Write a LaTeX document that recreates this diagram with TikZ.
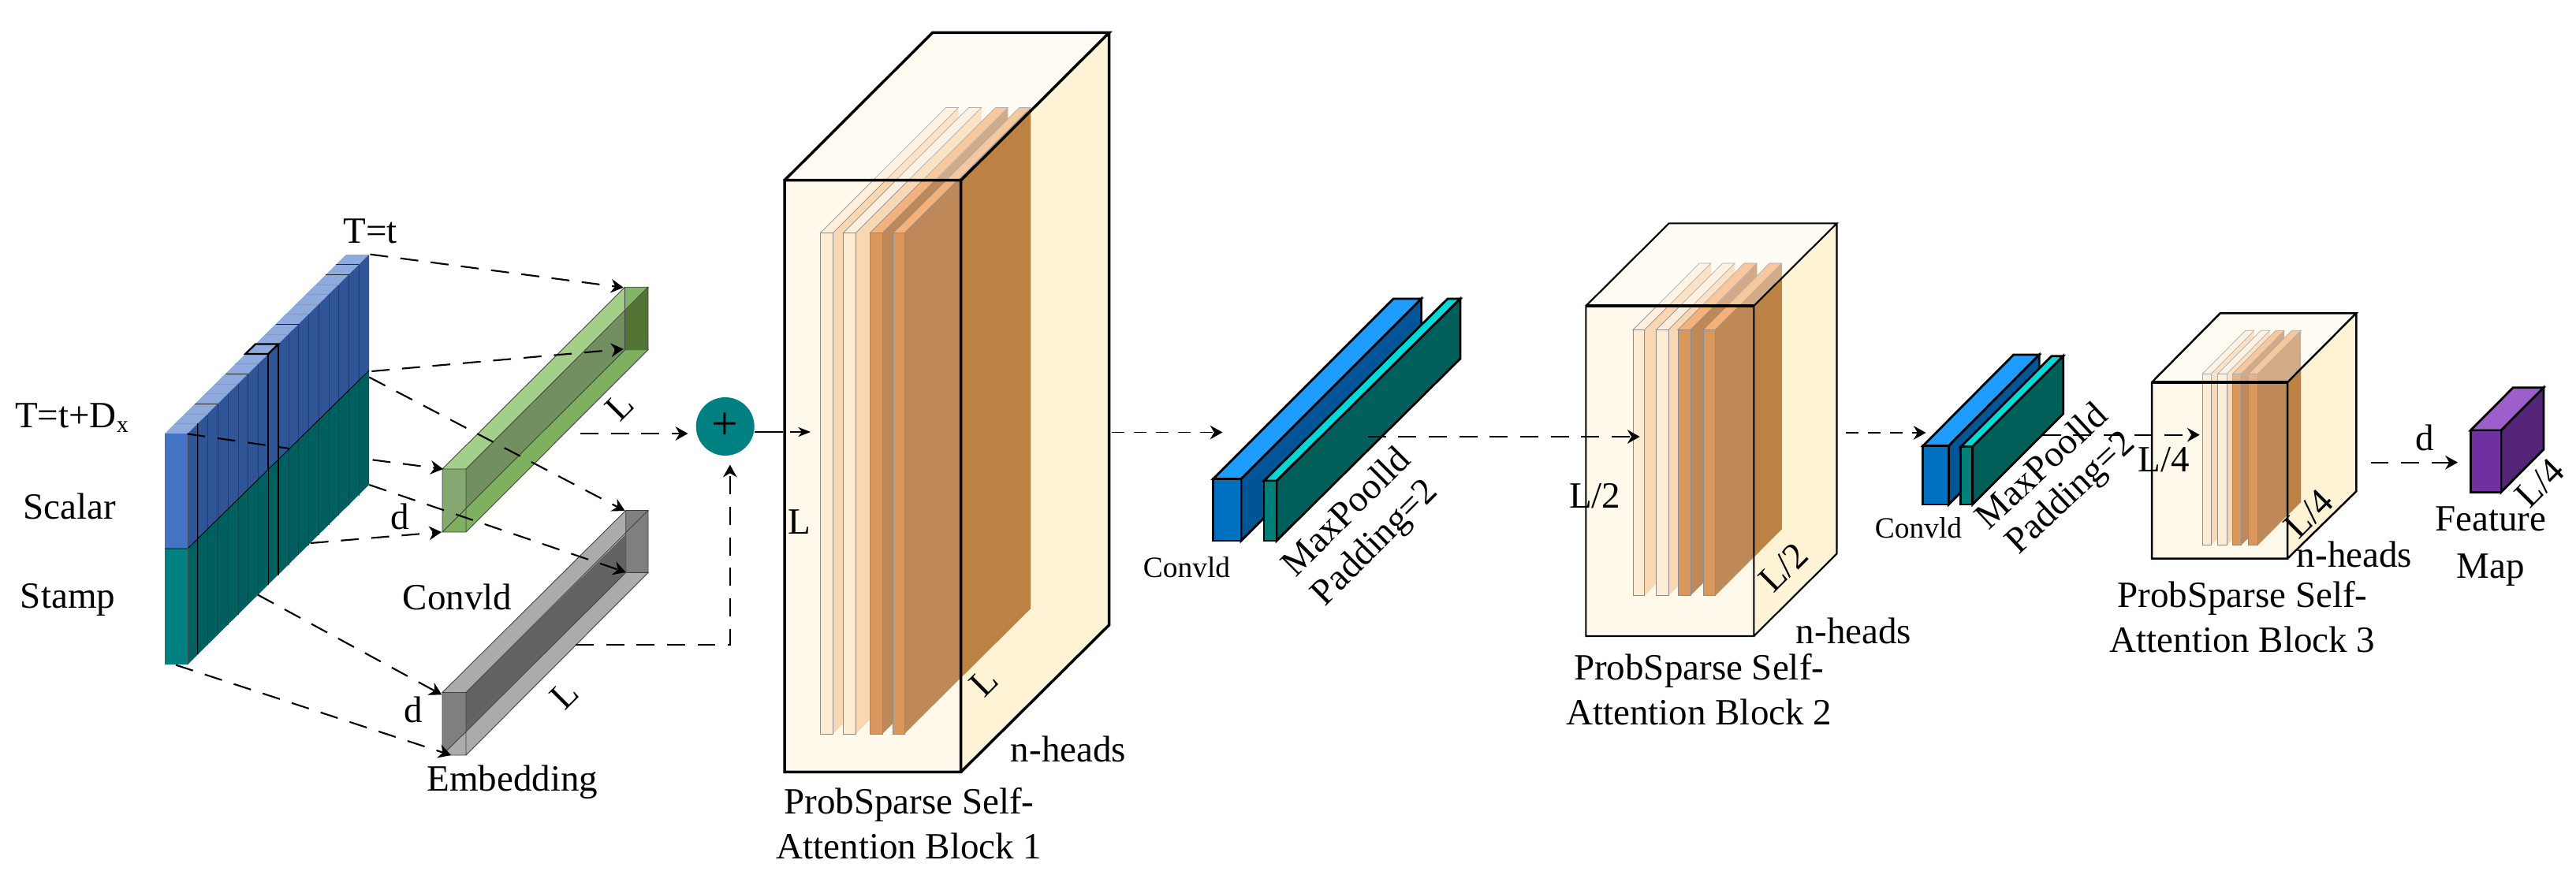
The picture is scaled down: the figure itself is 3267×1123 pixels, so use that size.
\documentclass[tikz,border=0pt]{standalone}
\usepackage{fontspec}
\setmainfont{Liberation Serif}
\usetikzlibrary{arrows.meta}
\newcommand\fa{\fontsize{26.75}{32.5}\selectfont}
\newcommand\fb{\fontsize{21.3}{26}\selectfont}
\newcommand\fc{\fontsize{17}{20}\selectfont}
% colours
\definecolor{cfront}{HTML}{0070C0}\definecolor{ctop}{HTML}{1F9DFF}\definecolor{cside}{HTML}{005596}
\definecolor{mfront}{HTML}{007F7A}\definecolor{mtop}{HTML}{00D9D9}\definecolor{mside}{HTML}{005F5B}
\definecolor{pfront}{HTML}{7030A0}\definecolor{ptop}{HTML}{9F5FCA}\definecolor{pside}{HTML}{542579}
\definecolor{lfront}{HTML}{FDEBD4}\definecolor{ltop}{HTML}{FDEEDD}\definecolor{lside}{HTML}{F9D7B2}
\definecolor{dfront}{HTML}{D9975D}\definecolor{dtop}{HTML}{F4B27A}\definecolor{dside}{HTML}{BE8859}
\definecolor{afront}{HTML}{FFF9EC}\definecolor{atop}{HTML}{FFFCF3}\definecolor{aside}{HTML}{FFF3D6}
\definecolor{aover}{HTML}{BC8243}
\definecolor{gback}{HTML}{527536}\definecolor{ginner}{HTML}{72905F}\definecolor{gtop}{HTML}{A3CF8B}
\definecolor{gbot}{HTML}{7FB060}\definecolor{gfront}{HTML}{85A970}\definecolor{gtri}{HTML}{82B366}
\definecolor{sback}{HTML}{7F7F7F}\definecolor{sinner}{HTML}{636363}\definecolor{stop}{HTML}{ABABAB}
\definecolor{sbot}{HTML}{ABABAB}\definecolor{sfront}{HTML}{7F7F7F}\definecolor{stri}{HTML}{7F7F7F}
\definecolor{bluefront}{HTML}{4472C4}\definecolor{bluetop}{HTML}{8FAADC}\definecolor{blueside}{HTML}{2F5597}
\definecolor{tealfront}{HTML}{008080}\definecolor{tealside}{HTML}{006060}
\definecolor{sumfill}{HTML}{008080}
\definecolor{bluegrid}{HTML}{1E3C78}\definecolor{tealgrid}{HTML}{004A4A}
\tikzset{
  lab/.style={inner sep=0pt,font=\fa,align=center},
  smalllab/.style={inner sep=0pt,font=\fb},
  diag/.style={lab,rotate=45},
  dashline/.style={dash pattern=on 13pt off 9pt,line width=1.2pt,-{Stealth[length=9pt,width=10pt]}},
  dashplain/.style={dash pattern=on 13pt off 9pt,line width=1.2pt},
  dashthin/.style={dash pattern=on 9pt off 7pt,line width=.8pt,-{Stealth[length=9pt,width=10pt]}},
  thinarrow/.style={line width=.6pt,-{Stealth[length=9pt,width=7pt]}},
  plateedge/.style={draw=black!45,line width=.4pt},
  boxedge/.style={draw=black,line width=1.6pt,line join=miter},
  attedge/.style={draw=black,line width=2pt,line join=miter},
  nodraw/.style={}
}
% cuboid: style; x1 x2 y1 y2 dx dy colourprefix
\newcommand\cuboid[8][nodraw]{%
  \path[fill=#8top,#1] (#2,#4) -- (#3,#4) -- ({#3+#6},{#4-#7}) -- ({#2+#6},{#4-#7}) -- cycle;
  \path[fill=#8side,#1] (#3,#4) -- ({#3+#6},{#4-#7}) -- ({#3+#6},{#5-#7}) -- (#3,#5) -- cycle;
  \path[fill=#8front,#1] (#2,#4) rectangle (#3,#5);
}
% plate: a cuboid with a fine edge on its top and front only
\newcommand\plate[7]{%
  \path[fill=#7side] (#2,#3) -- ({#2+#5},{#3-#6}) -- ({#2+#5},{#4-#6}) -- (#2,#4) -- cycle;
  \path[fill=#7top,plateedge] (#1,#3) -- (#2,#3) -- ({#2+#5},{#3-#6}) -- ({#1+#5},{#3-#6}) -- cycle;
  \path[fill=#7front,plateedge] (#1,#3) rectangle (#2,#4);
}
% hollow bar: prefix x1 x2 y1 y2 bx1 bx2 by1 by2
\newcommand\hollowbar[9]{%
  \path[fill=#1back] ({#6},{#8+30}) -- (#7,#8) -- (#7,#9) -- (#6,#9) -- cycle;
  \path[fill=#1inner] (#3,#4) -- ({#6},{#8+30}) -- (#6,#9) -- (#3,{#5-30}) -- cycle;
  \path[fill=#1top] (#2,#4) -- (#3,#4) -- (#7,#8) -- (#6,#8) -- cycle;
  \path[fill=#1tri] (#6,#8) -- (#7,#8) -- ({#6},{#8+30}) -- cycle;
  \path[fill=#1bot] (#2,#5) -- (#3,#5) -- (#7,#9) -- (#6,#9) -- cycle;
  \path[fill=#1front] (#2,#4) -- (#3,#4) -- (#3,{#5-30}) -- (#2,#5) -- cycle;
  \draw[line width=.5pt,black!75] (#2,#4) -- (#3,#4) -- (#7,#8) -- (#6,#8) -- cycle
    (#3,#4) -- (#3,#5) (#2,#4) -- (#2,#5) -- (#6,#9) -- (#7,#9) -- (#3,#5) -- (#2,#5)
    (#6,#8) -- (#6,#9) (#7,#8) -- (#7,#9);
}
\begin{document}
\begin{tikzpicture}[x=0.02cm,y=-0.02cm]
\useasboundingbox (0,0) rectangle (3267,1123);
\fill[white] (0,0) rectangle (3267,1123);

%% ---- input tensor
\fill[bluetop] (209,550) -- (238,550) -- (468,323) -- (439,323) -- cycle;
\fill[blueside] (238,550) -- (468,323) -- (468,470) -- (238,696) -- cycle;
\fill[tealside] (238,696) -- (468,470) -- (468,615) -- (238,843) -- cycle;
\fill[bluefront] (209,550) rectangle (238,696);
\fill[tealfront] (209,696) rectangle (238,843);
\foreach \i in {1,...,17}{
  \pgfmathsetmacro\xx{238+\i*12.78}
  \pgfmathsetmacro\yy{550-\i*12.61}
  \draw[line width=.3pt,bluegrid] (\xx,\yy) -- (\xx,{\yy+146});
  \draw[line width=.3pt,tealgrid] (\xx,{\yy+146}) -- (\xx,{\yy+293});
  \draw[line width=.3pt,blueside!60] (\xx,\yy) -- ({\xx-29},\yy);
}
\foreach \i in {3,6,11,16,17}{
  \pgfmathsetmacro\xx{238+\i*12.78}
  \pgfmathsetmacro\yy{550-\i*12.61}
  \draw[line width=.4pt,black!85] (\xx,\yy) -- ({\xx-29},\yy);
}
\draw[line width=.6pt] (250.8,537.4) -- (250.8,830);
\draw[line width=.5pt] (209,696) -- (238,696) -- (468,470);
\draw[line width=.4pt,black!70] (238,550) -- (238,843);
% highlighted cell
\draw[line width=1.3pt] (311.2,449) -- (340.2,449) -- (353,436.5) -- (324,436.5) -- cycle;
\draw[line width=1.3pt] (340.2,449) -- (340.2,595) (353,436.5) -- (353,582.5);
\draw[line width=.7pt] (340.2,595) -- (340.2,742) (353,582.5) -- (353,729);

%% ---- convolution bars
\hollowbar{g}{561}{591}{595}{675}{792.5}{822}{364.3}{443.7}
\hollowbar{s}{561}{591}{878.5}{958}{793.7}{822}{647.5}{726.4}

%% ---- labels of the first stage
\node[lab] (lTt) at (469.5,293) {T=t};
\node[lab] (lTtD) at (91,530) {T=t+D\raisebox{-.12em}{\fc x}};
\node[lab] (lScalar) at (88,642) {Scalar};
\node[lab] (lStamp) at (86,761) {Stamp};
\node[lab] (ld1) at (507.7,655.6) {d};
\node[lab] (ld2) at (524,900.5) {d};
\node[diag] (lL1) at (785.8,515.5) {L};
\node[diag] (lL2) at (716,881) {L};
\node[lab] (lConv) at (580,757) {Convld};
\node[lab] (lEmb) at (650,992) {Embedding};

%% ---- sum node
\node[circle,fill=sumfill,inner sep=0pt,minimum size=1.48cm,font=\fontsize{34}{34}\selectfont] (sum) at (919.7,541) {+};

%% ---- connectors of the first stage
\coordinate (a1s) at (469.5,322.7); \coordinate (a1e) at (790.7,364.8);
\coordinate (a2s) at (471.4,471);   \coordinate (a2e) at (790.7,442.8);
\coordinate (a3s) at (237.5,550.4); \coordinate (a3m) at (366.5,569);
\coordinate (a3n) at (472.6,583.4); \coordinate (a3e) at (562,595);
\coordinate (a4s) at (393.8,689);   \coordinate (a4e) at (560,675);
\coordinate (a5s) at (468.3,478.6); \coordinate (a5e) at (792.5,648);
\coordinate (a6s) at (468.3,615);   \coordinate (a6e) at (793.7,726);
\coordinate (a7s) at (327,754.6);   \coordinate (a7e) at (560.4,881.4);
\coordinate (a8s) at (223,843.6);   \coordinate (a8e) at (572,958);
\coordinate (a9s) at (736,550);     \coordinate (a9e) at (872.5,550);
\coordinate (a10s) at (730,818);    \coordinate (a10c) at (925.8,818); \coordinate (a10e) at (925.8,589.6);
\draw[dashline] (a1s) -- (a1e);
\draw[dashline] (a2s) -- (a2e);
\draw[dashplain] (a3s) -- (a3m);
\draw[dashline] (a3n) -- (a3e);
\draw[dashline] (a4s) -- (a4e);
\draw[dashline] (a5s) -- (a5e);
\draw[dashline] (a6s) -- (a6e);
\draw[dashline] (a7s) -- (a7e);
\draw[dashline] (a8s) -- (a8e);
\draw[dashline] (a9s) -- (a9e);
\draw[dashline] (a10s) -- (a10c) -- (a10e);

%% ---- attention block 1
\fill[afront] (995,228.7) rectangle (1218.7,979.4);
\fill[atop] (995,228.7) -- (1218.7,228.7) -- (1406.7,41.4) -- (1182.7,41.4) -- cycle;
\fill[aside] (1218.7,228.7) -- (1406.7,41.4) -- (1406.7,792.8) -- (1218.7,979.4) -- cycle;
\plate{1040.3}{1056.3}{295.5}{931}{159.3}{159}{l}
\plate{1069.3}{1085.3}{295.5}{931}{159.3}{159}{l}
\plate{1103.3}{1119}{295.5}{931}{159.3}{159}{d}
\plate{1132.7}{1147}{295.5}{931}{160}{159}{d}
\begin{scope}
  \clip (1218.7,228.7) -- (1406.7,41.4) -- (1406.7,792.8) -- (1218.7,979.4) -- cycle;
  \fill[aover] (1147,295.5) -- (1307,136.4) -- (1307,772) -- (1147,931) -- cycle;
\end{scope}
\fill[atop,opacity=.3] (995,228.7) -- (1218.7,228.7) -- (1406.7,41.4) -- (1182.7,41.4) -- cycle;
\draw[attedge] (995,228.7) rectangle (1218.7,979.4)
  (995,228.7) -- (1182.7,41.4) -- (1406.7,41.4) -- (1218.7,228.7)
  (1406.7,41.4) -- (1406.7,792.8) -- (1218.7,979.4);
\coordinate (b1in) at (993,548); \coordinate (b1ip) at (1002,548); \coordinate (b1ie) at (1028,548);
\draw[line width=.6pt] (sum.east |- b1in) -- (b1in);
\draw[thinarrow] (b1ip) -- (b1ie);
\node[lab] (lL3) at (1014,662) {L};
\node[diag] (lL4) at (1247.7,865) {L};
\node[lab] (lH1) at (1355,950) {n-heads};
\node[lab] (lB1) at (1153,1045) {ProbSparse Self-\\Attention Block 1};

%% ---- conv + maxpool 1
\cuboid[boxedge]{1538.6}{1574}{607.5}{686}{228.5}{228.5}{c}
\cuboid[boxedge]{1603}{1619}{610}{686}{233}{231}{m}
\node[smalllab] (lC1) at (1505,720) {Convld};
\node[diag] (lM1) at (1706,648) {MaxPoolld};
\node[diag] (lP1) at (1745,690) {Padding=2};

%% ---- attention block 2
\fill[afront] (2011.4,388) rectangle (2224.3,807);
\fill[atop] (2011.4,388) -- (2224.3,388) -- (2329.5,283.4) -- (2116.5,283.4) -- cycle;
\fill[aside] (2224.3,388) -- (2329.5,283.4) -- (2329.5,702.4) -- (2224.3,807) -- cycle;
\plate{2071}{2085.7}{418.4}{755.6}{84.3}{84.5}{l}
\plate{2100.5}{2115.9}{418.4}{755.6}{84.3}{84.5}{l}
\plate{2128}{2144}{418.4}{755.6}{84.3}{84.5}{d}
\plate{2160}{2175.5}{418.4}{755.6}{84.3}{84.5}{d}
\begin{scope}
  \clip (2224.3,388) -- (2329.5,283.4) -- (2329.5,702.4) -- (2224.3,807) -- cycle;
  \fill[aover] (2175.5,418.4) -- (2259.8,333.9) -- (2259.8,671.1) -- (2175.5,755.6) -- cycle;
\end{scope}
\fill[atop,opacity=.3] (2011.4,388) -- (2224.3,388) -- (2329.5,283.4) -- (2116.5,283.4) -- cycle;
\draw[attedge,line width=1.2pt] (2011.4,388) rectangle (2224.3,807)
  (2011.4,388) -- (2116.5,283.4) -- (2329.5,283.4) -- (2224.3,388)
  (2329.5,283.4) -- (2329.5,702.4) -- (2224.3,807);
\draw[line width=2.2pt] (2011.4,388) -- (2224.3,388);
\node[lab] (lL5) at (2022.8,629) {L/2};
\node[diag] (lL6) at (2261.8,720) {L/2};
\node[lab] (lH2) at (2351,800.7) {n-heads};
\node[lab] (lB2) at (2154.7,875) {ProbSparse Self-\\Attention Block 2};

%% ---- conv + maxpool 2
\cuboid[boxedge]{2438.7}{2471.3}{565.7}{640}{115}{115.7}{c}
\cuboid[boxedge]{2486.8}{2501.7}{566.7}{640}{115}{115}{m}
\node[smalllab] (lC2) at (2433,670) {Convld};
\node[lab,rotate=43] (lM2) at (2588,590) {MaxPoolld};
\node[lab,rotate=43] (lP2) at (2627,627) {Padding=2};

%% ---- attention block 3
\fill[afront] (2729,485) rectangle (2901,708.7);
\fill[atop] (2729,485) -- (2901,485) -- (2988.3,397.3) -- (2815.8,397.3) -- cycle;
\fill[aside] (2901,485) -- (2988.3,397.3) -- (2988.3,623.3) -- (2901,708.7) -- cycle;
\plate{2793.1}{2804.2}{474.3}{691.7}{54.7}{55}{l}
\plate{2812.5}{2824.1}{474.3}{691.7}{54.7}{55}{l}
\plate{2831.3}{2842.4}{474.3}{691.7}{54.7}{55}{d}
\plate{2851.8}{2863.4}{474.3}{691.7}{54.7}{55}{d}
\begin{scope}
  \clip (2901,485) -- (2988.3,397.3) -- (2988.3,623.3) -- (2901,708.7) -- cycle;
  \fill[aover] (2863.4,474.3) -- (2918.1,419.3) -- (2918.1,636.7) -- (2863.4,691.7) -- cycle;
\end{scope}
\fill[atop,opacity=.3] (2729,485) -- (2901,485) -- (2988.3,397.3) -- (2815.8,397.3) -- cycle;
\draw[attedge,line width=1.4pt] (2729,485) rectangle (2901,708.7)
  (2729,485) -- (2815.8,397.3) -- (2988.3,397.3) -- (2901,485)
  (2988.3,397.3) -- (2988.3,623.3) -- (2901,708.7);
\draw[line width=2.2pt] (2729,485) -- (2901,485);
\node[lab] (lL7) at (2744,583) {L/4};
\node[diag] (lL8) at (2928,651.7) {L/4};
\node[lab] (lH3) at (2986,703) {n-heads};
\node[lab] (lB3) at (2844,783) {ProbSparse Self-\\Attention Block 3};

%% ---- feature map
\cuboid[boxedge]{3133.2}{3172}{546}{624.3}{54}{54.3}{p}
\node[lab] (ld3) at (3075.7,555) {d};
\node[diag] (lL9) at (3221,613) {L/4};
\node[lab] (lF) at (3158.6,693) {Feature\\[1.5pt]Map};

%% ---- connectors between the stages
\coordinate (c1s) at (1410,548.5); \coordinate (c1e) at (1550.5,548.5);
\coordinate (c2s) at (1734.8,554); \coordinate (c2e) at (2079.7,554);
\coordinate (c3s) at (2340.9,549); \coordinate (c3e) at (2442.6,549);
\coordinate (c4s) at (2590.8,551.7); \coordinate (c4e) at (2789.8,551.7);
\coordinate (c5s) at (3006.6,586.7); \coordinate (c5e) at (3117,586.7);
\draw[dashthin] (c1s) -- (c1e);
\draw[dashline] (c2s) -- (c2e);
\draw[dashthin] (c3s) -- (c3e);
\draw[dashline] (c4s) -- (c4e);
\draw[dashline] (c5s) -- (c5e);
\end{tikzpicture}
\end{document}
